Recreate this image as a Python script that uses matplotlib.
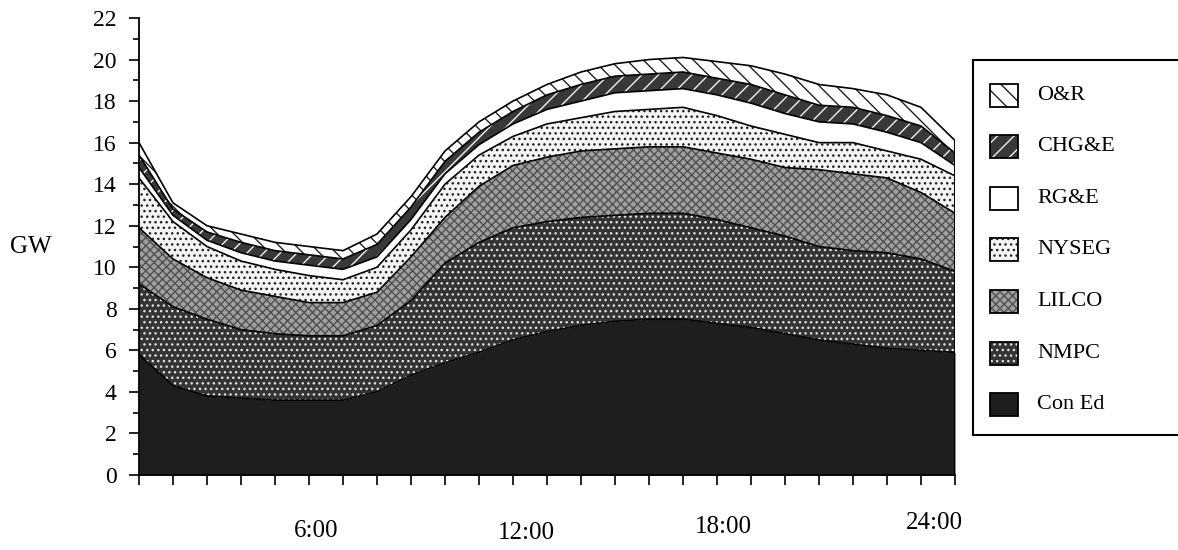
import matplotlib
matplotlib.use('Agg')
import matplotlib.pyplot as plt
import numpy as np
from matplotlib.patches import Rectangle
from matplotlib.ticker import MultipleLocator

plt.rcParams['font.family'] = ['Liberation Serif', 'DejaVu Serif']
plt.rcParams['hatch.linewidth'] = 1.0

# hourly load by utility, GW
hours = np.arange(0, 25)
con_ed = [5.8, 4.3, 3.8, 3.7, 3.6, 3.6, 3.6, 4.0, 4.8, 5.4, 5.9, 6.5, 6.9,
          7.2, 7.4, 7.5, 7.5, 7.3, 7.1, 6.8, 6.5, 6.3, 6.1, 6.0, 5.9]
nmpc = [3.4, 3.8, 3.7, 3.3, 3.2, 3.1, 3.1, 3.2, 3.6, 4.8, 5.3, 5.4, 5.3,
        5.2, 5.1, 5.1, 5.1, 5.0, 4.8, 4.7, 4.5, 4.5, 4.6, 4.4, 3.9]
lilco = [2.7, 2.3, 2.0, 1.9, 1.8, 1.6, 1.6, 1.6, 2.1, 2.2, 2.7, 3.0, 3.1,
         3.2, 3.2, 3.2, 3.2, 3.2, 3.3, 3.3, 3.7, 3.7, 3.6, 3.2, 2.8]
nyseg = [2.4, 1.8, 1.5, 1.4, 1.3, 1.3, 1.1, 1.2, 1.3, 1.6, 1.5, 1.4, 1.6,
         1.6, 1.8, 1.8, 1.9, 1.8, 1.6, 1.6, 1.3, 1.5, 1.3, 1.6, 1.8]
rge = [0.5, 0.3, 0.3, 0.4, 0.4, 0.5, 0.5, 0.5, 0.5, 0.5, 0.5, 0.6, 0.7,
       0.8, 0.9, 0.9, 0.9, 1.0, 1.1, 1.0, 1.0, 0.9, 0.9, 0.8, 0.5]
chge = [0.6, 0.3, 0.4, 0.5, 0.5, 0.5, 0.5, 0.6, 0.6, 0.6, 0.6, 0.6, 0.7,
        0.8, 0.8, 0.8, 0.8, 0.8, 0.9, 0.9, 0.8, 0.8, 0.8, 0.8, 0.6]
oar = [0.6, 0.3, 0.3, 0.4, 0.4, 0.4, 0.4, 0.5, 0.5, 0.5, 0.5, 0.5, 0.5,
       0.6, 0.6, 0.7, 0.7, 0.8, 0.9, 1.0, 1.0, 0.9, 1.0, 0.9, 0.6]

names = ['Con Ed', 'NMPC', 'LILCO', 'NYSEG', 'RG&E', 'CHG&E', 'O&R']
series = [con_ed, nmpc, lilco, nyseg, rge, chge, oar]

hour_labels = ['6:00', '12:00', '18:00', '24:00']
label_pos = [5.2, 11.4, 17.2, 23.4]

# face colour, hatch, hatch colour
styles = [
    ('#1e1e1e', None, '#1e1e1e'),
    ('#343434', '...', '#e0e0e0'),
    ('#a0a0a0', 'xxxx', '#505050'),
    ('#f4f4f4', '...', '#202020'),
    ('white', None, 'white'),
    ('#383838', '//', '#f0f0f0'),
    ('white', '\\\\', '#202020'),
]

W, H = 1178, 550
fig = plt.figure(figsize=(W / 100, H / 100), dpi=100)
ax = fig.add_axes([139 / W, 75 / H, 816 / W, 457 / H])

base = np.zeros(len(hours))
for vals, (fc, hatch, hc) in zip(series, styles):
    top = base + np.array(vals)
    ax.fill_between(hours, base, top, facecolor=fc, hatch=hatch,
                    edgecolor=hc, linewidth=0)
    ax.plot(hours, top, color='black', lw=1.2)
    base = top
ax.vlines(hours[-1], 0, base[-1], color='black', lw=1.5)

ax.set_xlim(0, 24)
ax.set_ylim(0, 22)
ax.set_yticks(range(0, 23, 2))
ax.yaxis.set_minor_locator(MultipleLocator(1))
ax.set_xticks(hours)
ax.set_xticklabels([])
for s in ['top', 'right']:
    ax.spines[s].set_visible(False)
for s in ['left', 'bottom']:
    ax.spines[s].set_linewidth(1.3)
ax.tick_params(axis='y', which='major', direction='out', length=7, width=1.2,
               labelsize=17, pad=9)
ax.tick_params(axis='y', which='minor', direction='out', length=4, width=1.2)
ax.tick_params(axis='x', direction='out', length=7, width=1.2)

label_y = [-0.122, -0.127, -0.114, -0.104]
for lab, xp, yp in zip(hour_labels, label_pos, label_y):
    ax.text(xp, yp, lab, transform=ax.get_xaxis_transform(),
            ha='center', va='center', fontsize=18)

fig.text(31 / W, 1 - 247 / H, 'GW', ha='center', va='center', fontsize=18)

# legend box, drawn by hand so it runs off the right edge like the original
lax = fig.add_axes([973 / W, 115 / H, 240 / W, 375 / H])
lax.set_xlim(0, 240)
lax.set_ylim(375, 0)
lax.set_xticks([])
lax.set_yticks([])
lax.patch.set_alpha(0)
lax.spines['right'].set_visible(False)
for s in ['left', 'top', 'bottom']:
    lax.spines[s].set_linewidth(1.5)

for i, k in enumerate(range(len(names) - 1, -1, -1)):
    fc, hatch, hc = styles[k]
    yc = 35 + i * 51.6
    lax.add_patch(Rectangle((17, yc - 11.5), 28, 23, facecolor=fc,
                            hatch=hatch, edgecolor=hc, linewidth=0))
    lax.add_patch(Rectangle((17, yc - 11.5), 28, 23, facecolor='none',
                            edgecolor='black', linewidth=1.3))
    lax.text(64, yc, names[k], ha='left', va='center', fontsize=16)

fig.savefig('out.png', dpi=100)
